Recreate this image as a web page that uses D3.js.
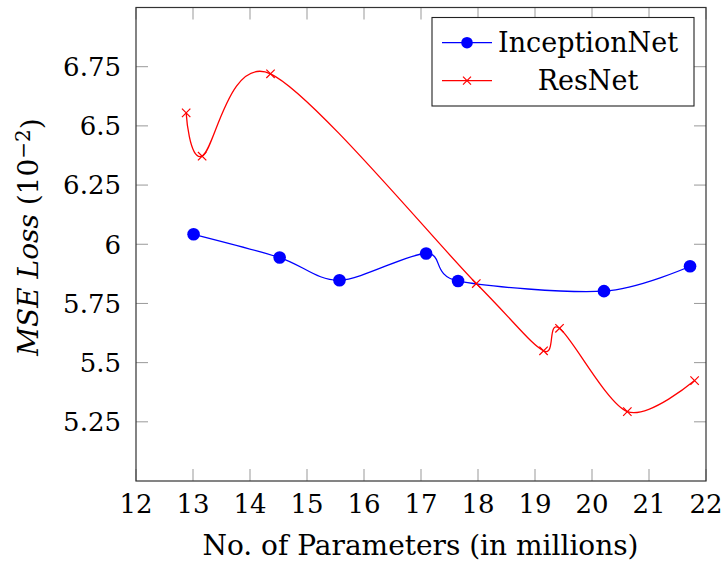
<!DOCTYPE html>
<html>
<head>
<meta charset="utf-8">
<script src="https://cdn.jsdelivr.net/npm/d3@7"></script>
<style>
  body { margin: 0; background: #fff; }
</style>
</head>
<body>
<script>
// data
var inceptionX = [13.01, 14.52, 15.57, 17.09, 17.65, 20.21, 21.72];
var inceptionY = [6.042, 5.944, 5.848, 5.961, 5.845, 5.802, 5.907];
var resnetX = [12.88, 13.16, 14.36, 17.97, 19.15, 19.43, 20.62, 21.80];
var resnetY = [6.555, 6.372, 6.72, 5.834, 5.55, 5.645, 5.293, 5.424];
var xTicks = [12, 13, 14, 15, 16, 17, 18, 19, 20, 21, 22];
var yTicks = [5.25, 5.5, 5.75, 6, 6.25, 6.5, 6.75];
var seriesNames = ["InceptionNet", "ResNet"];

function draw() {
    var width = 722, height = 564;
    var pL = 136, pR = 706, pT = 7.5, pB = 481;
    var fs = 26;

    var svg = d3.select("body").append("svg").attr("width", width).attr("height", height)
        .attr("font-family", "'DejaVu Serif', serif");

    var x = d3.scaleLinear().domain([12, 22]).range([pL, pR]);
    var y = d3.scaleLinear().domain([5, 7]).range([pB, pT]);

    var tickLen = 12;
    var ticks = svg.append("g").attr("stroke", "#999").attr("stroke-width", 1);
    xTicks.forEach(function (t) {
        ticks.append("line").attr("x1", x(t)).attr("x2", x(t)).attr("y1", pB).attr("y2", pB - tickLen);
        ticks.append("line").attr("x1", x(t)).attr("x2", x(t)).attr("y1", pT).attr("y2", pT + tickLen);
    });
    yTicks.forEach(function (t) {
        ticks.append("line").attr("y1", y(t)).attr("y2", y(t)).attr("x1", pL).attr("x2", pL + tickLen);
        ticks.append("line").attr("y1", y(t)).attr("y2", y(t)).attr("x1", pR).attr("x2", pR - tickLen);
    });

    svg.append("rect").attr("x", pL).attr("y", pT).attr("width", pR - pL).attr("height", pB - pT)
        .attr("fill", "none").attr("stroke", "#333").attr("stroke-width", 1.2);

    // tick labels
    svg.append("g").selectAll("text").data(xTicks).enter().append("text")
        .attr("x", d => x(d)).attr("y", 513).attr("text-anchor", "middle")
        .style("font-size", fs + "px").text(d => d);
    svg.append("g").selectAll("text").data(yTicks).enter().append("text")
        .attr("x", 121).attr("y", d => y(d)).attr("dy", "0.36em").attr("text-anchor", "end")
        .style("font-size", fs + "px").text(d => d3.format("~g")(d));

    // axis labels
    svg.append("text").attr("x", (pL + pR) / 2 - 0.5).attr("y", 555).attr("text-anchor", "middle")
        .style("font-size", (fs + 2) + "px").text("No. of Parameters (in millions)");

    var yl = svg.append("text").attr("transform", "translate(38,237) rotate(-90)")
        .attr("text-anchor", "middle").style("font-size", (fs + 2) + "px");
    yl.append("tspan").style("font-style", "italic").text("MSE Loss");
    yl.append("tspan").text(" (10");
    yl.append("tspan").attr("dy", "-0.4em").style("font-size", "20px").text("\u22122");
    yl.append("tspan").attr("dy", "0.4em").text(")");

    var line = d3.line().x(d => x(d[0])).y(d => y(d[1])).curve(d3.curveCardinal.tension(0.09));

    var inc = d3.zip(inceptionX, inceptionY);
    var res = d3.zip(resnetX, resnetY);

    svg.append("path").datum(inc).attr("d", line).attr("fill", "none").attr("stroke", "#00f").attr("stroke-width", 1.3);
    svg.append("path").datum(res).attr("d", line).attr("fill", "none").attr("stroke", "#f00").attr("stroke-width", 1.3);

    svg.append("g").selectAll("circle").data(inc).enter().append("circle")
        .attr("cx", d => x(d[0])).attr("cy", d => y(d[1])).attr("r", 6.3).attr("fill", "#00f");

    function cross(g, cx, cy, s) {
        g.append("path").attr("d", "M" + (cx - s) + "," + (cy - s) + "L" + (cx + s) + "," + (cy + s) +
            "M" + (cx - s) + "," + (cy + s) + "L" + (cx + s) + "," + (cy - s))
            .attr("stroke", "#f00").attr("stroke-width", 1.2).attr("fill", "none");
    }
    var crosses = svg.append("g");
    res.forEach(function (d) { cross(crosses, x(d[0]), y(d[1]), 4.2); });

    // legend
    var lg = svg.append("g");
    lg.append("rect").attr("x", 432).attr("y", 17.5).attr("width", 262).attr("height", 88.5)
        .attr("fill", "#fff").attr("stroke", "#222").attr("stroke-width", 1.1);
    var rows = [42.7, 80.7];
    lg.append("line").attr("x1", 442).attr("x2", 492).attr("y1", rows[0]).attr("y2", rows[0]).attr("stroke", "#00f").attr("stroke-width", 1.3);
    lg.append("circle").attr("cx", 467).attr("cy", rows[0]).attr("r", 5.8).attr("fill", "#00f");
    lg.append("line").attr("x1", 442).attr("x2", 492).attr("y1", rows[1]).attr("y2", rows[1]).attr("stroke", "#f00").attr("stroke-width", 1.3);
    cross(lg, 467, rows[1], 4);
    lg.selectAll("text.lab").data(seriesNames).enter().append("text").attr("class", "lab")
        .attr("x", 588).attr("y", (d, i) => rows[i]).attr("dy", "0.36em").attr("text-anchor", "middle")
        .style("font-size", (fs + 1) + "px").text(d => d);
}
draw();
</script>
</body>
</html>
